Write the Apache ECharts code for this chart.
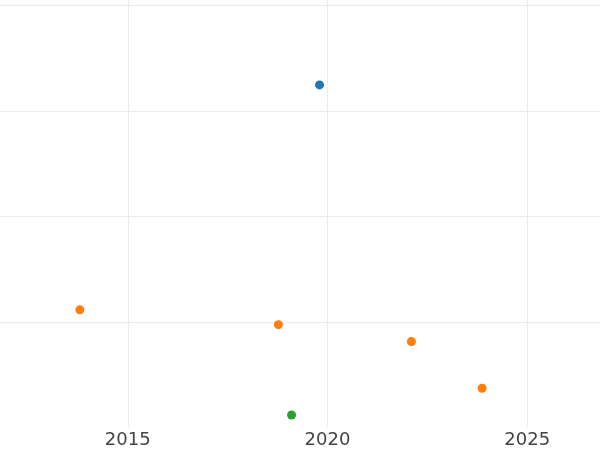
<!DOCTYPE html>
<html>
<head>
<meta charset="utf-8">
<script src="https://cdn.jsdelivr.net/npm/echarts@6/dist/echarts.min.js"></script>
<style>
html,body{margin:0;padding:0;background:#fff;width:600px;height:450px;overflow:hidden;position:relative;}
#c{position:absolute;left:-72px;top:-100px;width:799px;height:550px;}
</style>
</head>
<body>
<div id="c"></div>
<script>
var blueX = [2019.80];
var blueY = [3.247];
var orangeX = [2013.80, 2018.77, 2022.10, 2023.87];
var orangeY = [1.115, 0.975, 0.814, 0.372];
var greenX = [2019.10];
var greenY = [0.119];
var xTicks = [2015, 2020, 2025];

function pts(xs, ys) { return xs.map(function (x, i) { return [x, ys[i]]; }); }

var chart = echarts.init(document.getElementById('c'), null, {renderer: 'canvas'});
var sym = 9;
chart.setOption({
  animation: false,
  backgroundColor: '#ffffff',
  grid: {left: 0, right: 0, top: 0, bottom: 22.5, containLabel: false, outerBoundsMode: 'none'},
  xAxis: {
    type: 'value', min: 2010, max: 2030, interval: 5,
    axisLine: {show: false}, axisTick: {show: false},
    axisLabel: {fontSize: 18, color: '#444444', fontFamily: 'DejaVu Sans', margin: 4,
      formatter: function (v) { return xTicks.indexOf(v) >= 0 ? String(v) : ''; }},
    splitLine: {show: true, showMinLine: false, showMaxLine: false, lineStyle: {color: '#ebebeb', width: 1}}
  },
  yAxis: {
    type: 'value', min: 0, max: 5, interval: 1,
    axisLine: {show: false}, axisTick: {show: false}, axisLabel: {show: false},
    splitLine: {show: true, showMinLine: false, showMaxLine: false, lineStyle: {color: '#ebebeb', width: 1}}
  },
  series: [
    {type: 'scatter', data: pts(blueX, blueY), symbolSize: sym, itemStyle: {color: '#1f77b4', opacity: 1}},
    {type: 'scatter', data: pts(orangeX, orangeY), symbolSize: sym, itemStyle: {color: '#ff7f0e', opacity: 1}},
    {type: 'scatter', data: pts(greenX, greenY), symbolSize: sym, itemStyle: {color: '#2ca02c', opacity: 1}}
  ]
});
</script>
</body>
</html>
